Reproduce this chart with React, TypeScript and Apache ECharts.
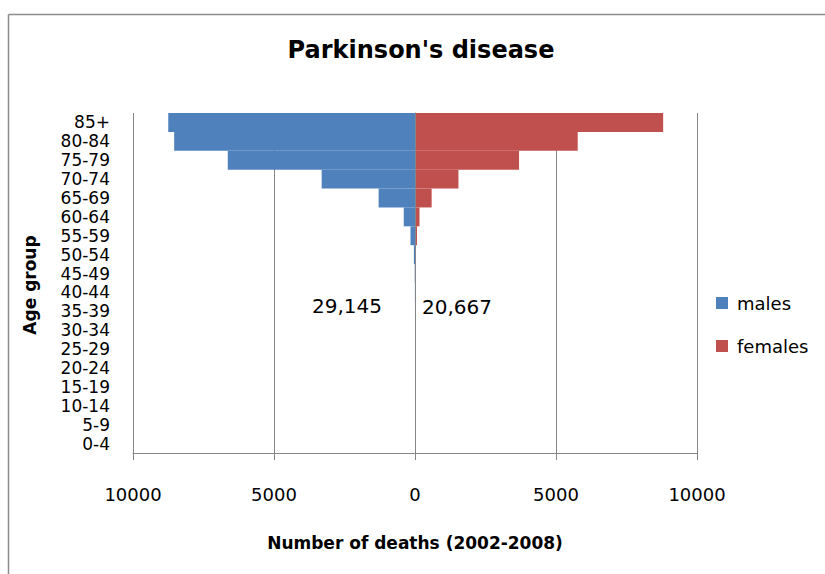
import React, { useEffect, useRef } from "react";
import * as echarts from "echarts";

const ageGroups = [
  "0-4", "5-9", "10-14", "15-19", "20-24", "25-29", "30-34", "35-39", "40-44",
  "45-49", "50-54", "55-59", "60-64", "65-69", "70-74", "75-79", "80-84", "85+",
];
const males = [0, 0, 0, 0, 0, 0, 0, 1, 4, 10, 40, 160, 400, 1290, 3310, 6640, 8540, 8750];
const females = [0, 0, 0, 0, 0, 0, 1, 3, 6, 12, 25, 70, 160, 590, 1540, 3690, 5770, 8800];
const xTicks = [-10000, -5000, 0, 5000, 10000];
const maleTotal = "29,145";
const femaleTotal = "20,667";
const titleText = "Parkinson's disease";
const xAxisTitle = "Number of deaths (2002-2008)";
const yAxisTitle = "Age group";

const FONT = "DejaVu Sans";
const GRAY = "#868686";

export default function App() {
  const ref = useRef<HTMLDivElement>(null);
  useEffect(() => {
    if (!ref.current) return;
    const chart = echarts.init(ref.current, null, { renderer: "svg" });
    chart.setOption({
      animation: false,
      backgroundColor: "#ffffff",
      grid: { left: 133, top: 113, width: 564, height: 340, containLabel: false },
      legend: {
        orient: "vertical",
        left: 716,
        top: 294,
        padding: 0,
        itemWidth: 12,
        itemHeight: 12,
        itemGap: 25,
        icon: "rect",
        data: ["males", "females"],
        textStyle: { fontFamily: FONT, fontSize: 18, color: "#000", padding: [0, 0, 0, 4], lineHeight: 18 },
      },
      xAxis: {
        type: "value",
        min: xTicks[0],
        max: xTicks[xTicks.length - 1],
        interval: 5000,
        axisLine: { show: true, lineStyle: { color: GRAY, width: 1 } },
        axisTick: { show: true, inside: false, length: 7, lineStyle: { color: GRAY } },
        splitLine: { show: true, lineStyle: { color: GRAY, width: 1 } },
        axisLabel: {
          formatter: (v: number) => String(Math.abs(v)),
          fontFamily: FONT,
          fontSize: 18,
          color: "#000",
          margin: 32,
        },
      },
      yAxis: {
        type: "category",
        data: ageGroups,
        axisLine: { show: true, lineStyle: { color: GRAY, width: 1 } },
        axisTick: { show: false },
        splitLine: { show: false },
        axisLabel: { fontFamily: FONT, fontSize: 17, lineHeight: 17, color: "#000", margin: 23, interval: 0 },
      },
      series: [
        {
          name: "males",
          type: "bar",
          stack: "pyramid",
          barCategoryGap: 0,
          data: males.map((v) => -v),
          itemStyle: { color: "#4F81BD" },
          markLine: {
            silent: true,
            symbol: "none",
            label: { show: false },
            lineStyle: { color: GRAY, width: 1, type: "solid" },
            data: [{ xAxis: 0 }],
          },
        },
        {
          name: "females",
          type: "bar",
          stack: "pyramid",
          barCategoryGap: 0,
          data: females,
          itemStyle: { color: "#C0504D" },
        },
      ],
      graphic: [
        { type: "line", shape: { x1: 8.5, y1: 14.5, x2: 825, y2: 14.5 }, style: { stroke: "#8c8c8c", lineWidth: 1.5 } },
        { type: "line", shape: { x1: 8.5, y1: 14.5, x2: 8.5, y2: 574 }, style: { stroke: "#8c8c8c", lineWidth: 1.5 } },
        {
          type: "text",
          x: 421,
          y: 50,
          style: { text: titleText, fontFamily: FONT, fontWeight: "bold", fontSize: 24, fill: "#000", align: "center", verticalAlign: "middle" },
        },
        {
          type: "text",
          x: 415,
          y: 543,
          style: { text: xAxisTitle, fontFamily: FONT, fontWeight: "bold", fontSize: 17, fill: "#000", align: "center", verticalAlign: "middle" },
        },
        {
          type: "text",
          x: 30,
          y: 285,
          rotation: Math.PI / 2,
          style: { text: yAxisTitle, fontFamily: FONT, fontWeight: "bold", fontSize: 17, fill: "#000", align: "center", verticalAlign: "middle" },
        },
        {
          type: "text",
          x: 347,
          y: 306,
          style: { text: maleTotal, fontFamily: FONT, fontSize: 20, fill: "#000", align: "center", verticalAlign: "middle" },
        },
        {
          type: "text",
          x: 457,
          y: 307,
          style: { text: femaleTotal, fontFamily: FONT, fontSize: 20, fill: "#000", align: "center", verticalAlign: "middle" },
        },
      ],
    });
    return () => chart.dispose();
  }, []);
  return (
    <div
      ref={ref}
      style={{ position: "absolute", left: 0, top: 0, width: 825, height: 574 }}
    />
  );
}
